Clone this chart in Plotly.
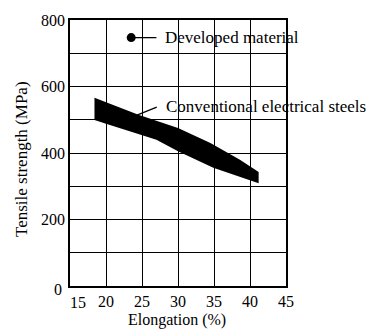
import plotly.graph_objects as go

# Data
band_upper_x = [18.4, 24.5, 30.0, 34.5, 38.6, 41.2]
band_upper_y = [566, 515, 475, 430, 380, 343]
band_lower_x = [18.4, 20.0, 27.0, 30.0, 34.9, 38.6, 41.2]
band_lower_y = [499, 488, 440, 405, 356, 328, 309]

developed_x = [23.5]
developed_y = [747]

x_tickvals = [15, 20, 25, 30, 35, 40, 45]
x_ticktext = ["", "20", "25", "30", "35", "40", "45"]
y_tickvals = [0, 100, 200, 300, 400, 500, 600, 700, 800]
y_ticktext = ["", "", "200", "", "400", "", "600", "", "800"]

FONT = "'Liberation Serif', 'Times New Roman', 'DejaVu Serif', serif"
W, H = 378, 329
L, R, T, B = 70, 92, 20, 43
pw, ph = W - L - R, H - T - B

def px2paper_x(px):
    return (px - L) / pw

def px2paper_y(py):
    return (H - B - py) / ph

band_x = band_upper_x + band_lower_x[::-1] + [band_upper_x[0]]
band_y = band_upper_y + band_lower_y[::-1] + [band_upper_y[0]]

fig = go.Figure()
fig.add_trace(go.Scatter(x=band_x, y=band_y, fill="toself", fillcolor="black",
                         mode="lines", line=dict(width=0, color="black"),
                         hoverinfo="skip", showlegend=False))
fig.add_trace(go.Scatter(x=developed_x, y=developed_y, mode="markers",
                         marker=dict(size=9, color="black"), showlegend=False))

axis_common = dict(showgrid=True, gridcolor="black", gridwidth=1.3,
                   showline=True, linecolor="black", linewidth=1.5, mirror=True,
                   ticks="", zeroline=False, tickmode="array",
                   tickfont=dict(family=FONT, size=16, color="black"))
fig.update_xaxes(range=[15, 45], tickvals=x_tickvals, ticktext=x_ticktext, **axis_common)
fig.update_yaxes(range=[0, 800], tickvals=y_tickvals, ticktext=y_ticktext, **axis_common)

# leader lines
fig.add_shape(type="line", xref="x", yref="y", x0=developed_x[0], y0=developed_y[0],
              x1=27.0, y1=developed_y[0], line=dict(color="black", width=1.3))
fig.add_shape(type="line", xref="x", yref="y", x0=24.3, y0=514, x1=27.05, y1=538,
              line=dict(color="black", width=1.3))

ann_font = dict(family=FONT, size=17, color="black")
small_font = dict(family=FONT, size=16, color="black")
annotations = [
    dict(x=27.85, y=developed_y[0], xref="x", yref="y", text="Developed material",
         showarrow=False, xanchor="left", yanchor="middle", font=ann_font),
    dict(x=28.0, y=541, xref="x", yref="y", text="Conventional electrical steels",
         showarrow=False, xanchor="left", yanchor="middle", font=ann_font),
    dict(x=px2paper_x(58), y=px2paper_y(289), xref="paper", yref="paper", text="0",
         showarrow=False, xanchor="center", yanchor="middle", font=small_font),
    dict(x=px2paper_x(77.5), y=px2paper_y(302), xref="paper", yref="paper", text="15",
         showarrow=False, xanchor="center", yanchor="middle", font=small_font),
    dict(x=px2paper_x(177), y=px2paper_y(320), xref="paper", yref="paper",
         text="Elongation (%)", showarrow=False, xanchor="center", yanchor="middle",
         font=small_font),
    dict(x=px2paper_x(22), y=px2paper_y(159), xref="paper", yref="paper",
         text="Tensile strength (MPa)", textangle=-90, showarrow=False,
         xanchor="center", yanchor="middle", font=ann_font),
]

fig.update_layout(width=W, height=H, margin=dict(l=L, r=R, t=T, b=B),
                  paper_bgcolor="white", plot_bgcolor="white",
                  font=dict(family=FONT, color="black"),
                  annotations=annotations, showlegend=False)

fig.write_html("out.html")
